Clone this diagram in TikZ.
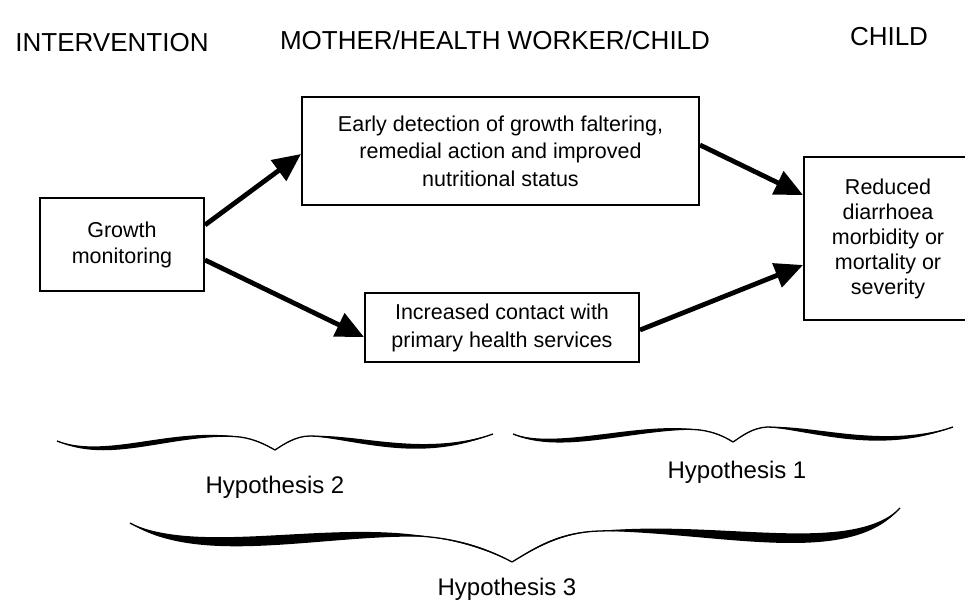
\documentclass[tikz,border=0pt]{standalone}
\usepackage{fontspec}
\setmainfont{Liberation Sans}
\usetikzlibrary{arrows.meta,calc}
\newcommand\hbseg[5]{%
  \fill (#1) .. controls ($(#2)+(0,-#5)$) and ($(#3)+(0,-#5)$) .. (#4)
             .. controls ($(#3)+(0,#5)$) and ($(#2)+(0,#5)$) .. (#1) -- cycle;
  \draw[line width=1.3pt] (#1) .. controls (#2) and (#3) .. (#4);}
\begin{document}
\begin{tikzpicture}[x=1pt,y=-1pt,
  box/.style={draw,line width=2pt,align=center,inner sep=0pt,font=\fontsize{21.5}{26}\selectfont},
  head/.style={font=\fontsize{26}{30}\selectfont},
  hyp/.style={font=\fontsize{24}{28}\selectfont},
  conn/.style={line width=4.8pt,-{Triangle[length=28pt,width=25pt]}}]
\clip (0,0) rectangle (965,601);
% headings
\node[head] (h1) at (112,43) {INTERVENTION};
\node[head] (h2) at (495,40) {MOTHER/HEALTH WORKER/CHILD};
\node[head] (h3) at (889,37) {CHILD};
% boxes
\node[box,minimum width=164pt,minimum height=93pt] (gm) at (122,244.5) {Growth\\monitoring};
\node[box,minimum width=397pt,minimum height=108pt,font=\fontsize{21.5}{27.5}\selectfont] (top) at (500.5,151) {Early detection of growth faltering,\\remedial action and improved\\nutritional status};
\node[box,minimum width=274pt,minimum height=69pt,font=\fontsize{21.5}{28}\selectfont] (bot) at (502,327.5) {Increased contact with\\primary health services};
\node[box,minimum width=168pt,minimum height=163pt,font=\fontsize{21.5}{25}\selectfont] (out) at (888,238.5) {Reduced\\diarrhoea\\morbidity or\\mortality or\\severity};
% connectors
\draw[conn] ([yshift=19.5pt]gm.east) -- ([yshift=-3pt]top.west);
\draw[conn] ([yshift=-15.5pt]gm.east) -- ([yshift=-9.5pt]bot.west);
\draw[conn] ([yshift=6pt]top.east) -- ([yshift=43.5pt]out.west);
\draw[conn] ([yshift=-2.5pt]bot.east) -- ([yshift=-26.5pt]out.west);
% brace for hypothesis 2
\hbseg{57,441}{110,462}{170,430}{240,437}{3.4}
\hbseg{240,437}{255,439}{266,445}{275,450}{0.4}
\hbseg{275,450}{284,444}{296,436}{310,436}{0.4}
\hbseg{310,436}{360,437}{420,460}{493,434}{3.4}
% brace for hypothesis 1
\hbseg{513,434}{560,453}{640,424}{700,430}{3.4}
\hbseg{700,430}{715,432}{725,437}{733,442}{0.4}
\hbseg{733,442}{742,436}{752,428}{767,427}{0.4}
\hbseg{767,427}{815,428}{880,452}{953,427}{3.4}
% brace for hypothesis 3
\hbseg{130,523}{200,562}{330,526}{430,537}{6.5}
\hbseg{430,537}{460,540}{490,550}{512,562}{1}
\hbseg{512,562}{535,548}{560,532}{600,531}{1}
\hbseg{600,531}{720,526}{850,562}{900,508}{6.5}
% labels
\node[hyp] (l2) at (275,487) {Hypothesis 2};
\node[hyp] (l1) at (737,472) {Hypothesis 1};
\node[hyp] (l3) at (507,589) {Hypothesis 3};
\end{tikzpicture}
\end{document}
